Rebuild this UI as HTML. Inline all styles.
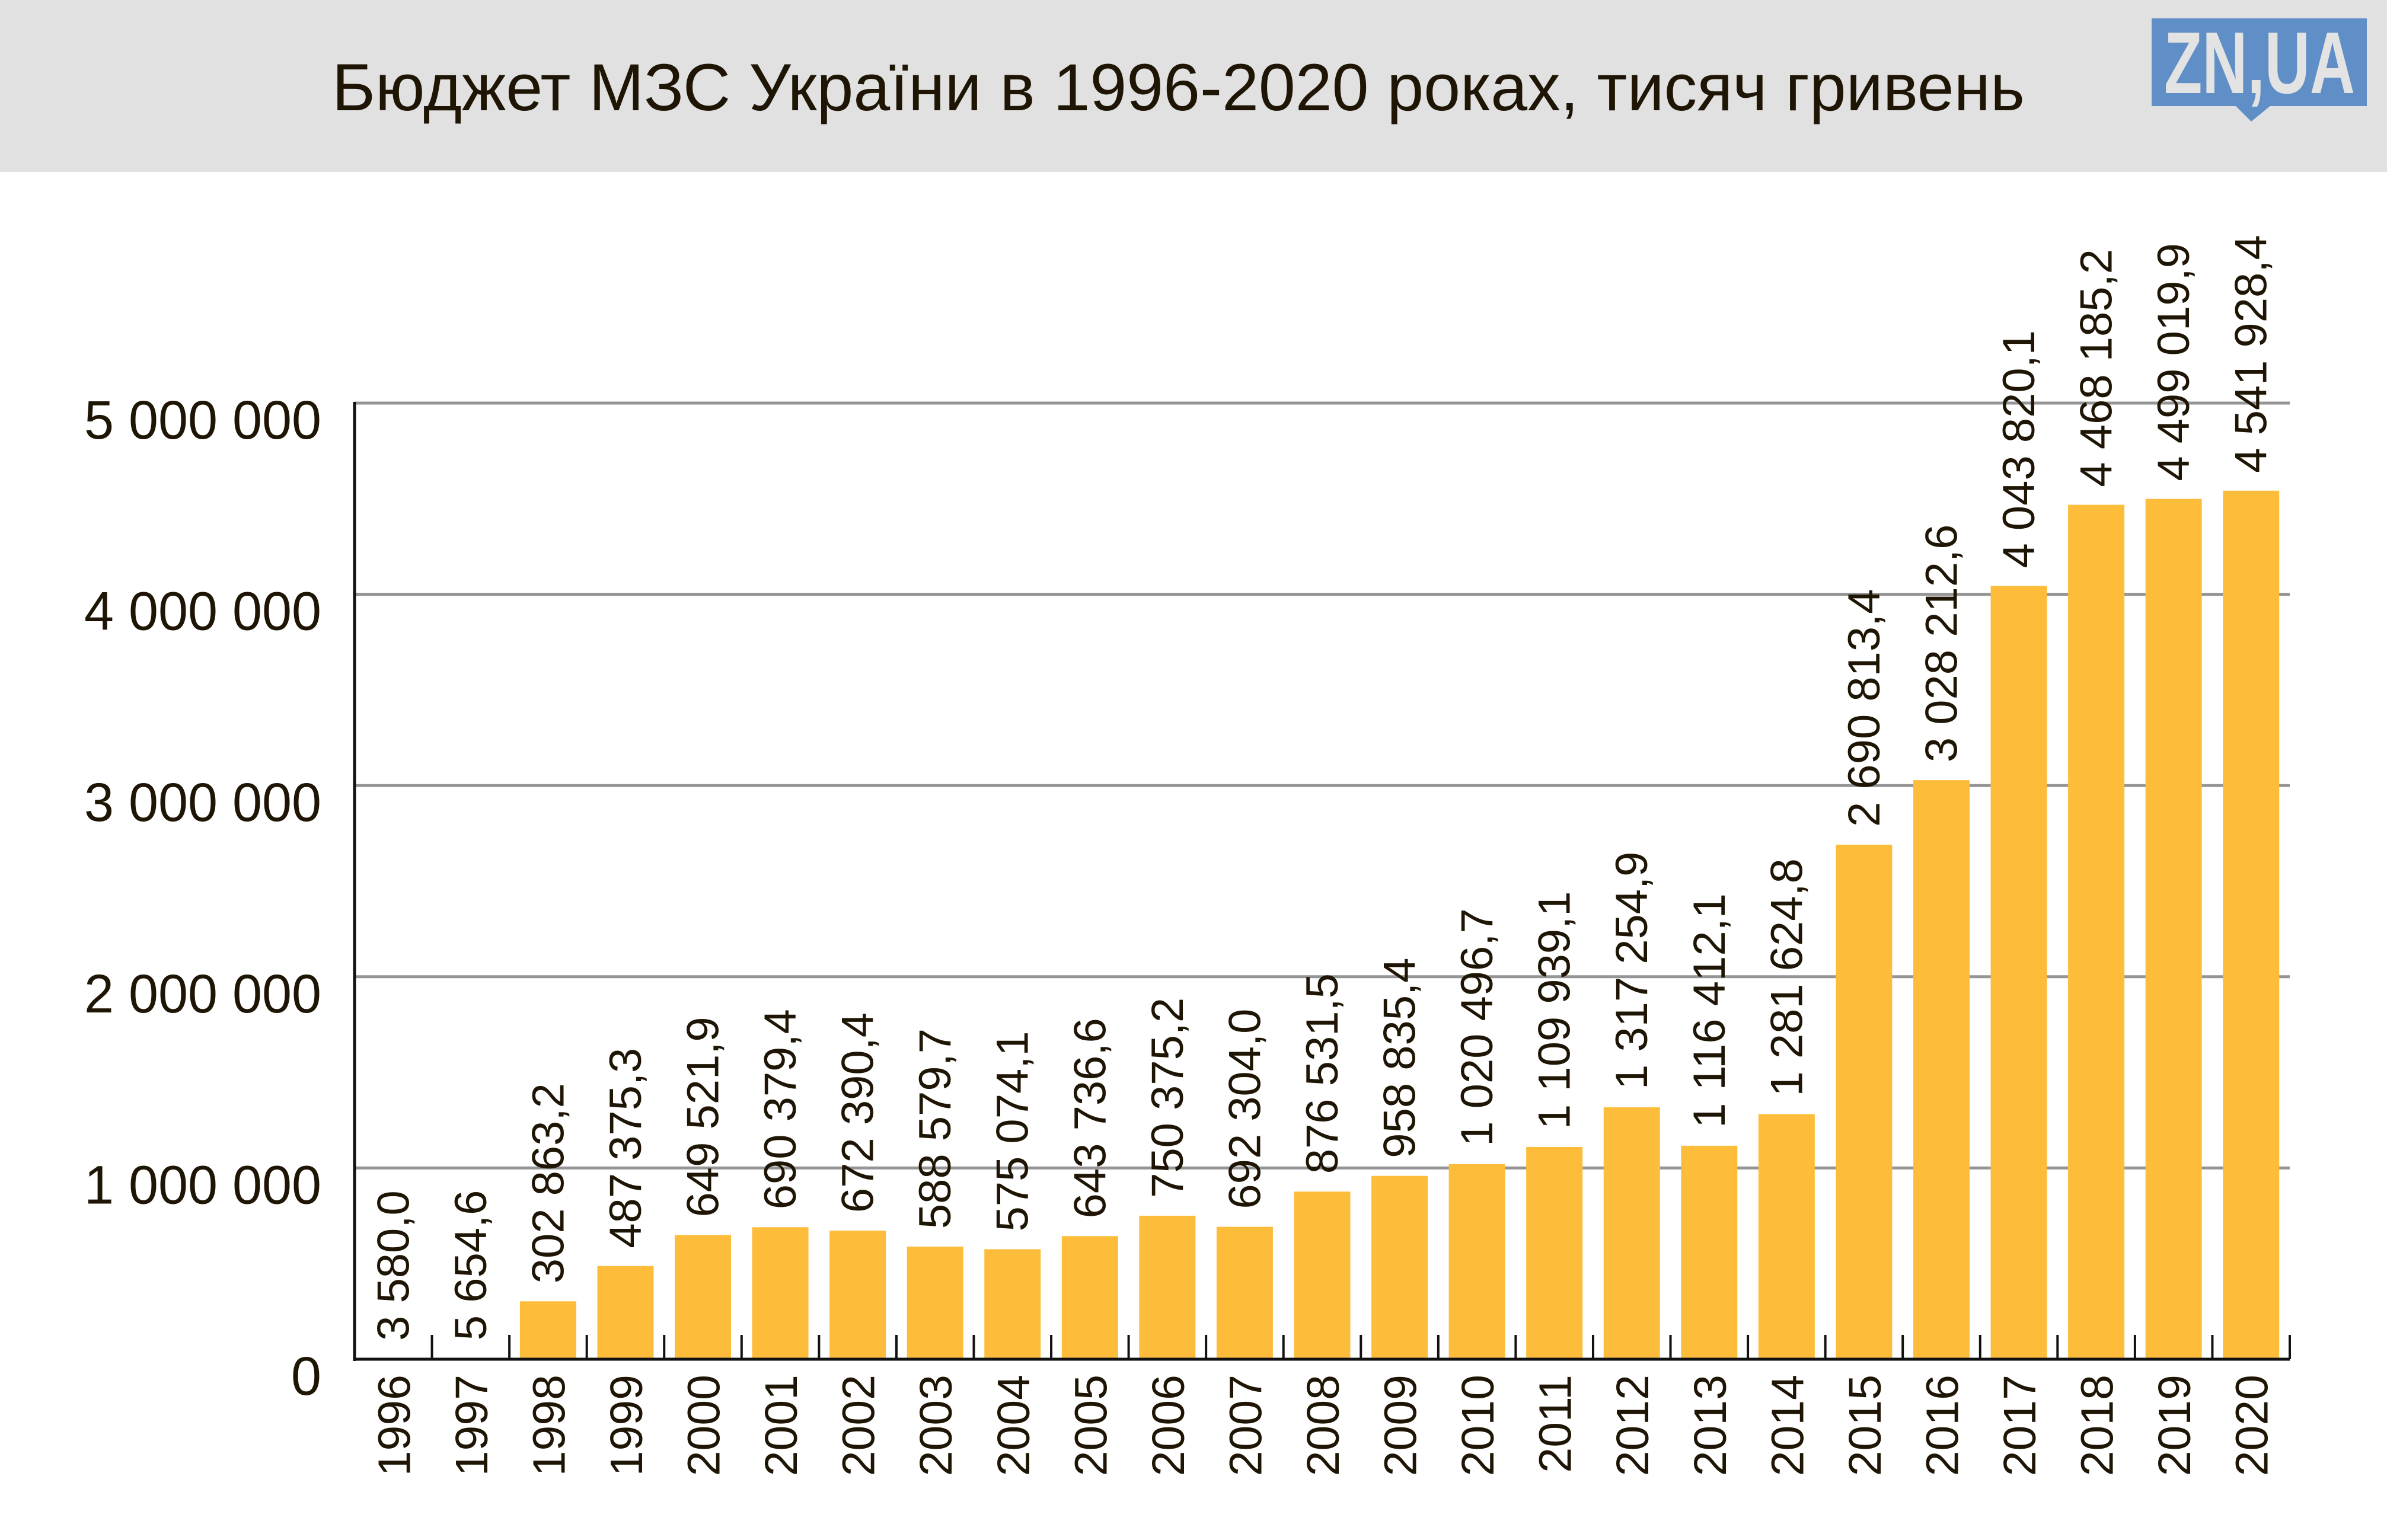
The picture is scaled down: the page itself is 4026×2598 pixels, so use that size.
<!DOCTYPE html>
<html><head><meta charset="utf-8"><style>
html,body{margin:0;padding:0;background:#fff}
svg{display:block}
text{font-family:"Liberation Sans",sans-serif;fill:#1e1505}
</style></head><body>
<svg id="chart" width="4026" height="2598" viewBox="0 0 4026 2598" xmlns="http://www.w3.org/2000/svg">
<rect x="0" y="0" width="4026" height="290" fill="#e1e1e1"/>
<text x="560" y="186" font-size="112" textLength="2855" lengthAdjust="spacingAndGlyphs">Бюджет МЗС України в 1996-2020 роках, тисяч гривень</text>
<g>
<rect x="3629" y="31" width="363" height="148" fill="#5f8fc6"/>
<polygon points="3770,178 3830,178 3797,205" fill="#5f8fc6"/>
<text x="3650" y="157" font-size="148" font-weight="bold" fill="#e3e3e3" style="fill:#e3e3e3" textLength="322" lengthAdjust="spacingAndGlyphs">ZN,UA</text>
</g>
<g id="grid"></g>
<g id="bars"></g>
<g id="axes"></g>
</svg>
<script>
const years = ["1996","1997","1998","1999","2000","2001","2002","2003","2004","2005","2006","2007","2008","2009","2010","2011","2012","2013","2014","2015","2016","2017","2018","2019","2020"];
const values = [3580.0,5654.6,302863.2,487375.3,649521.9,690379.4,672390.4,588579.7,575074.1,643736.6,750375.2,692304.0,876531.5,958835.4,1020496.7,1109939.1,1317254.9,1116412.1,1281624.8,2690813.4,3028212.6,4043820.1,4468185.2,4499019.9,4541928.4];
const valueLabels = ["3 580,0","5 654,6","302 863,2","487 375,3","649 521,9","690 379,4","672 390,4","588 579,7","575 074,1","643 736,6","750 375,2","692 304,0","876 531,5","958 835,4","1 020 496,7","1 109 939,1","1 317 254,9","1 116 412,1","1 281 624,8","2 690 813,4","3 028 212,6","4 043 820,1","4 468 185,2","4 499 019,9","4 541 928,4"];
const yTicks = [0,1000000,2000000,3000000,4000000,5000000];
const yTickLabels = ["0","1 000 000","2 000 000","3 000 000","4 000000","5 000 000"];
yTickLabels[4]="4 000 000";

const NS="http://www.w3.org/2000/svg";
const x0=598, x1=3862, yBase=2293, yTop=680, yMax=5000000;
const step=(x1-x0)/years.length;
const y=v=>yBase-(v/yMax)*(yBase-yTop);
const xc=i=>x0+step*(i+0.5);
function mk(tag,attrs,parent){const e=document.createElementNS(NS,tag);for(const k in attrs)e.setAttribute(k,attrs[k]);parent.appendChild(e);return e;}
const grid=document.getElementById('grid'),bars=document.getElementById('bars'),axes=document.getElementById('axes');
yTicks.forEach((t,i)=>{
  if(t>0){const l=mk('line',{x1:x0,x2:x1,y1:y(t),y2:y(t),stroke:'#959595','stroke-width':5},grid);
  
  }
  const tx=mk('text',{x:542,y:y(t)+60,'font-size':92,'text-anchor':'end'},grid);
  if(t>0){tx.setAttribute('textLength',400);tx.setAttribute('lengthAdjust','spacingAndGlyphs');}
  tx.textContent=yTickLabels[i];
  
  
});
const bw=95;
values.forEach((v,i)=>{
  const c=xc(i);
  const r=mk('rect',{x:c-bw/2,y:y(v),width:bw,height:yBase-y(v),fill:'#fdbd3b'},bars);
  
  
  const lx=c+26, ly=y(v)-30;
  const t=mk('text',{x:lx,y:ly,'font-size':76,transform:`rotate(-90 ${lx} ${ly})`},bars);
  t.textContent=valueLabels[i];
  
  
  const yx=c+28, yy=2319;
  const yt=mk('text',{x:yx,y:yy,'font-size':77,'text-anchor':'end',transform:`rotate(-90 ${yx} ${yy})`},axes);
  yt.textContent=years[i];
  
  
  const tk=mk('line',{x1:x0+step*(i+1),x2:x0+step*(i+1),y1:yBase-41,y2:yBase,stroke:'#111','stroke-width':4},axes);
  
  
});
const ya=mk('line',{x1:x0,x2:x0,y1:yTop-2,y2:yBase+3,stroke:'#111','stroke-width':5},axes);


const xa=mk('line',{x1:x0,x2:x1,y1:yBase,y2:yBase,stroke:'#111','stroke-width':5},axes);


</script>
</body></html>
